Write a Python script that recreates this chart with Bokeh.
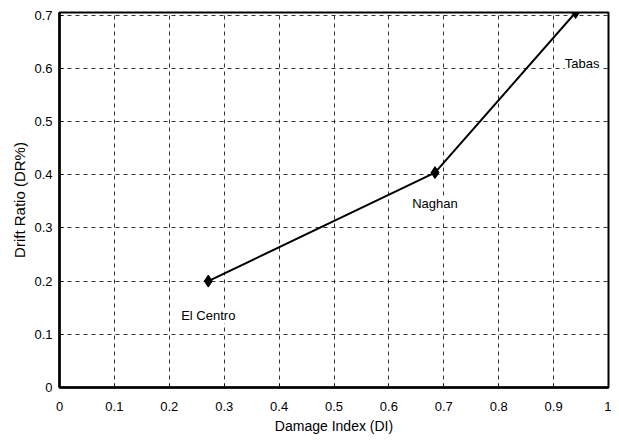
from bokeh.plotting import figure
from bokeh.models import FixedTicker, Range1d, ColumnDataSource, LabelSet
from bokeh.core.properties import value
from bokeh.embed import file_html
from bokeh.resources import INLINE

# data
damage_index = [0.271, 0.684, 0.94]
drift_ratio = [0.2, 0.404, 0.705]
records = ["El Centro", "Naghan", "Tabas"]
label_x = [0.271, 0.684, 0.952]
label_y = [0.135, 0.345, 0.61]

x_ticks = [0, 0.1, 0.2, 0.3, 0.4, 0.5, 0.6, 0.7, 0.8, 0.9, 1.0]
x_tick_labels = ["0", "0.1", "0.2", "0.3", "0.4", "0.5", "0.6", "0.7", "0.8", "0.9", "1"]
y_ticks = [0, 0.1, 0.2, 0.3, 0.4, 0.5, 0.6, 0.7]
y_tick_labels = ["0", "0.1", "0.2", "0.3", "0.4", "0.5", "0.6", "0.7"]

FONT = "Liberation Sans"

p = figure(width=611, height=436, output_backend="svg", toolbar_location=None,
           x_range=Range1d(0, 1.0), y_range=Range1d(0, 0.705),
           min_border_left=59, min_border_right=3, min_border_top=12, min_border_bottom=49)
p.outline_line_color = "black"
p.outline_line_width = 2
p.background_fill_color = "white"
p.border_fill_color = "white"

p.xaxis.ticker = FixedTicker(ticks=x_ticks)
p.yaxis.ticker = FixedTicker(ticks=y_ticks)
p.xaxis.major_label_overrides = {t: l for t, l in zip(x_ticks, x_tick_labels)}
p.yaxis.major_label_overrides = {t: l for t, l in zip(y_ticks, y_tick_labels)}

for ax in (p.xaxis, p.yaxis):
    ax.axis_line_color = "black"
    ax.axis_line_width = 2.5
    ax.major_tick_in = 4
    ax.major_tick_out = 0
    ax.minor_tick_line_color = None
    ax.major_tick_line_color = "black"
    ax.major_label_text_font = FONT
    ax.major_label_text_font_size = "13px"
    ax.major_label_text_color = "black"
    ax.axis_label_text_font = FONT
    ax.axis_label_text_font_style = "normal"
    ax.axis_label_text_color = "black"

p.xaxis.axis_label = "Damage Index (DI)"
p.yaxis.axis_label = "Drift Ratio (DR%)"
p.xaxis.axis_label_text_font_size = "14px"
p.yaxis.axis_label_text_font_size = "15px"
p.xaxis.major_label_standoff = 14
p.xaxis.axis_label_standoff = 4
p.yaxis.major_label_standoff = 7
p.yaxis.axis_label_standoff = 3

for g in (p.xgrid, p.ygrid):
    g.grid_line_color = "black"
    g.grid_line_width = 1
    g.grid_line_dash = "4 4"
    g.grid_line_alpha = 0.8

src = ColumnDataSource(dict(x=damage_index, y=drift_ratio))
p.line("x", "y", source=src, line_color="black", line_width=2)
p.scatter("x", "y", source=src, marker="diamond", size=12, fill_color="black", line_color="black")

lsrc = ColumnDataSource(dict(x=label_x, y=label_y, t=records))
p.add_layout(LabelSet(x="x", y="y", text="t", source=lsrc, text_align="center",
                      text_baseline="middle", text_font=value(FONT), text_font_size="13px",
                      text_color="black", background_fill_color="white"))

open("out.html", "w").write(file_html(p, INLINE))
